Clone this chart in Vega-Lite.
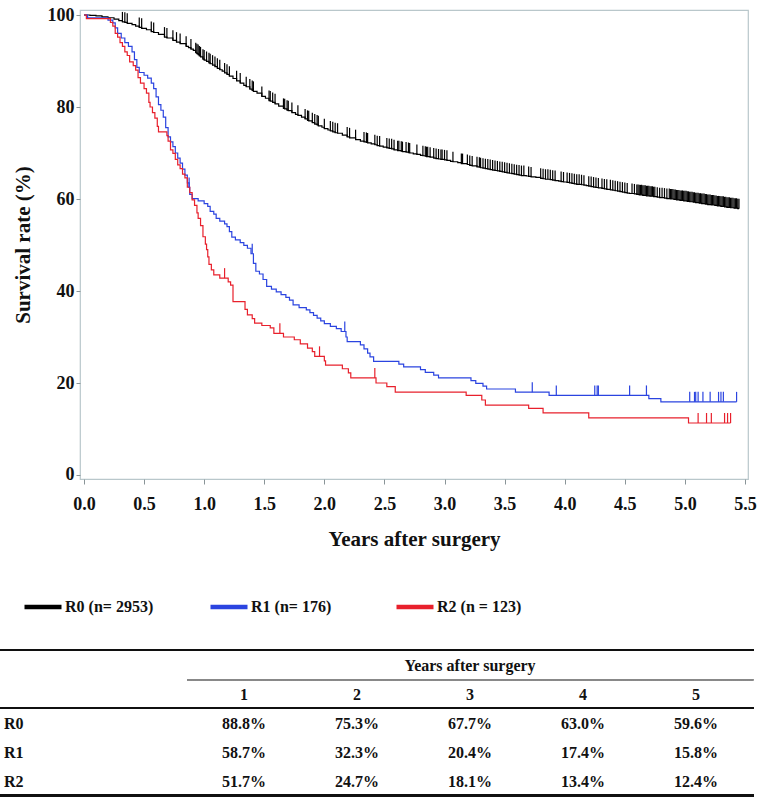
{
"$schema": "https://vega.github.io/schema/vega-lite/v6.json",
"width": 668, "height": 469,
"autosize": {"type": "none"},
"padding": {"left": 80, "top": 10, "right": 19, "bottom": 318},
"background": "white",
"config": {
  "view": {"stroke": "#b9c7cb", "strokeWidth": 1.2},
  "font": "Liberation Serif",
  "axis": {"labelFont": "Liberation Serif", "labelFontWeight": "bold", "labelFontSize": 18, "labelColor": "#111111", "titleFont": "Liberation Serif", "titleFontWeight": "bold", "titleFontSize": 21, "titleColor": "#111111", "domain": false, "grid": false, "tickColor": "#8a9598", "labelFlush": false, "labelOverlap": false}
},
"datasets": {
"km": [
{"g":"R0","t":0,"s":100},{"g":"R0","t":0.05,"s":99.9},{"g":"R0","t":0.1,"s":99.8},{"g":"R0","t":0.15,"s":99.6},{"g":"R0","t":0.2,"s":99.4},{"g":"R0","t":0.25,"s":99.1},{"g":"R0","t":0.29,"s":98.8},
{"g":"R0","t":0.32,"s":98.5,"c":1},{"g":"R0","t":0.34,"s":98.4,"c":1},{"g":"R0","t":0.36,"s":98.2,"c":1},{"g":"R0","t":0.4,"s":97.9},{"g":"R0","t":0.43,"s":97.6},{"g":"R0","t":0.46,"s":97.3,"c":1},{"g":"R0","t":0.48,"s":97.1,"c":1},{"g":"R0","t":0.52,"s":96.8},{"g":"R0","t":0.56,"s":96.4,"c":1},{"g":"R0","t":0.58,"s":96.2,"c":1},{"g":"R0","t":0.62,"s":95.8},{"g":"R0","t":0.67,"s":95.2,"c":1},{"g":"R0","t":0.69,"s":95.0,"c":1},{"g":"R0","t":0.74,"s":94.5,"c":1},{"g":"R0","t":0.77,"s":94.1,"c":1},{"g":"R0","t":0.8,"s":93.8,"c":1},{"g":"R0","t":0.85,"s":93.2,"c":1},{"g":"R0","t":0.87,"s":92.9},{"g":"R0","t":0.89,"s":92.6,"c":1},{"g":"R0","t":0.91,"s":92.3},{"g":"R0","t":0.93,"s":91.8,"c":1},{"g":"R0","t":0.94,"s":91.6,"c":1},{"g":"R0","t":0.95,"s":91.4,"c":1},{"g":"R0","t":0.96,"s":91.1,"c":1},{"g":"R0","t":0.97,"s":90.9,"c":1},{"g":"R0","t":0.99,"s":90.4,"c":1},{"g":"R0","t":1.0,"s":90.2,"c":1},
{"g":"R0","t":1.02,"s":89.9,"c":1},{"g":"R0","t":1.04,"s":89.6,"c":1},{"g":"R0","t":1.05,"s":89.4,"c":1},{"g":"R0","t":1.07,"s":89.1,"c":1},{"g":"R0","t":1.09,"s":88.8,"c":1},{"g":"R0","t":1.11,"s":88.4,"c":1},{"g":"R0","t":1.13,"s":88.1,"c":1},{"g":"R0","t":1.15,"s":87.8},{"g":"R0","t":1.17,"s":87.4,"c":1},{"g":"R0","t":1.19,"s":87.1,"c":1},{"g":"R0","t":1.21,"s":86.7,"c":1},{"g":"R0","t":1.24,"s":86.2},{"g":"R0","t":1.27,"s":85.7,"c":1},{"g":"R0","t":1.3,"s":85.2,"c":1},{"g":"R0","t":1.33,"s":84.7},{"g":"R0","t":1.35,"s":84.4,"c":1},{"g":"R0","t":1.38,"s":83.9,"c":1},{"g":"R0","t":1.4,"s":83.6,"c":1},{"g":"R0","t":1.41,"s":83.4,"c":1},{"g":"R0","t":1.44,"s":83.0},{"g":"R0","t":1.48,"s":82.3,"c":1},{"g":"R0","t":1.51,"s":81.9},{"g":"R0","t":1.54,"s":81.4,"c":1},{"g":"R0","t":1.55,"s":81.3,"c":1},{"g":"R0","t":1.57,"s":81.0,"c":1},{"g":"R0","t":1.59,"s":80.7,"c":1},{"g":"R0","t":1.62,"s":80.2},{"g":"R0","t":1.66,"s":79.7,"c":1},{"g":"R0","t":1.67,"s":79.6,"c":1},{"g":"R0","t":1.69,"s":79.3,"c":1},{"g":"R0","t":1.7,"s":79.2,"c":1},{"g":"R0","t":1.73,"s":78.8,"c":1},{"g":"R0","t":1.76,"s":78.4},{"g":"R0","t":1.78,"s":78.2,"c":1},{"g":"R0","t":1.81,"s":77.8},{"g":"R0","t":1.84,"s":77.4,"c":1},{"g":"R0","t":1.86,"s":77.1,"c":1},{"g":"R0","t":1.87,"s":77.0,"c":1},{"g":"R0","t":1.9,"s":76.6,"c":1},{"g":"R0","t":1.92,"s":76.3,"c":1},{"g":"R0","t":1.94,"s":76.1,"c":1},{"g":"R0","t":1.95,"s":75.9,"c":1},{"g":"R0","t":1.98,"s":75.6},
{"g":"R0","t":2.0,"s":75.3,"c":1},{"g":"R0","t":2.03,"s":75.0},{"g":"R0","t":2.05,"s":74.8,"c":1},{"g":"R0","t":2.07,"s":74.6,"c":1},{"g":"R0","t":2.09,"s":74.4,"c":1},{"g":"R0","t":2.11,"s":74.3,"c":1},{"g":"R0","t":2.15,"s":73.9},{"g":"R0","t":2.19,"s":73.5,"c":1},{"g":"R0","t":2.21,"s":73.3,"c":1},{"g":"R0","t":2.26,"s":72.9,"c":1},{"g":"R0","t":2.3,"s":72.6},{"g":"R0","t":2.33,"s":72.4,"c":1},{"g":"R0","t":2.35,"s":72.3,"c":1},{"g":"R0","t":2.36,"s":72.2,"c":1},{"g":"R0","t":2.39,"s":72.0},{"g":"R0","t":2.42,"s":71.8,"c":1},{"g":"R0","t":2.44,"s":71.6,"c":1},{"g":"R0","t":2.46,"s":71.5,"c":1},{"g":"R0","t":2.49,"s":71.3},{"g":"R0","t":2.52,"s":71.1,"c":1},{"g":"R0","t":2.54,"s":71.0,"c":1},{"g":"R0","t":2.56,"s":70.9,"c":1},{"g":"R0","t":2.58,"s":70.7,"c":1},{"g":"R0","t":2.61,"s":70.5,"c":1},{"g":"R0","t":2.62,"s":70.5,"c":1},{"g":"R0","t":2.64,"s":70.4,"c":1},{"g":"R0","t":2.65,"s":70.3,"c":1},{"g":"R0","t":2.68,"s":70.2,"c":1},{"g":"R0","t":2.7,"s":70.1,"c":1},{"g":"R0","t":2.71,"s":70.0,"c":1},{"g":"R0","t":2.74,"s":69.8},{"g":"R0","t":2.77,"s":69.7,"c":1},{"g":"R0","t":2.8,"s":69.5},{"g":"R0","t":2.82,"s":69.4,"c":1},{"g":"R0","t":2.84,"s":69.3,"c":1},{"g":"R0","t":2.85,"s":69.2,"c":1},{"g":"R0","t":2.86,"s":69.2,"c":1},{"g":"R0","t":2.88,"s":69.1,"c":1},{"g":"R0","t":2.91,"s":68.9,"c":1},{"g":"R0","t":2.93,"s":68.8,"c":1},{"g":"R0","t":2.95,"s":68.7,"c":1},{"g":"R0","t":2.97,"s":68.6,"c":1},{"g":"R0","t":2.98,"s":68.6,"c":1},
{"g":"R0","t":3.0,"s":68.5,"c":1},{"g":"R0","t":3.02,"s":68.4,"c":1},{"g":"R0","t":3.05,"s":68.2},{"g":"R0","t":3.07,"s":68.1,"c":1},{"g":"R0","t":3.11,"s":67.9},{"g":"R0","t":3.14,"s":67.7,"c":1},{"g":"R0","t":3.15,"s":67.7,"c":1},{"g":"R0","t":3.19,"s":67.5,"c":1},{"g":"R0","t":3.21,"s":67.3,"c":1},{"g":"R0","t":3.23,"s":67.2,"c":1},{"g":"R0","t":3.27,"s":67.0,"c":1},{"g":"R0","t":3.29,"s":66.9,"c":1},{"g":"R0","t":3.3,"s":66.8,"c":1},{"g":"R0","t":3.32,"s":66.7,"c":1},{"g":"R0","t":3.34,"s":66.6,"c":1},{"g":"R0","t":3.36,"s":66.5,"c":1},{"g":"R0","t":3.38,"s":66.4,"c":1},{"g":"R0","t":3.4,"s":66.3,"c":1},{"g":"R0","t":3.42,"s":66.2,"c":1},{"g":"R0","t":3.44,"s":66.1,"c":1},{"g":"R0","t":3.46,"s":66.0,"c":1},{"g":"R0","t":3.48,"s":65.9,"c":1},{"g":"R0","t":3.5,"s":65.8,"c":1},{"g":"R0","t":3.52,"s":65.7,"c":1},{"g":"R0","t":3.54,"s":65.6,"c":1},{"g":"R0","t":3.56,"s":65.5,"c":1},{"g":"R0","t":3.58,"s":65.4,"c":1},{"g":"R0","t":3.6,"s":65.3,"c":1},{"g":"R0","t":3.62,"s":65.2,"c":1},{"g":"R0","t":3.64,"s":65.1,"c":1},{"g":"R0","t":3.66,"s":65.1,"c":1},{"g":"R0","t":3.68,"s":65.0},{"g":"R0","t":3.7,"s":64.9,"c":1},{"g":"R0","t":3.72,"s":64.8,"c":1},{"g":"R0","t":3.76,"s":64.7},{"g":"R0","t":3.8,"s":64.5,"c":1},{"g":"R0","t":3.82,"s":64.4,"c":1},{"g":"R0","t":3.84,"s":64.3,"c":1},{"g":"R0","t":3.86,"s":64.3,"c":1},{"g":"R0","t":3.88,"s":64.2,"c":1},{"g":"R0","t":3.9,"s":64.1,"c":1},{"g":"R0","t":3.92,"s":64.0,"c":1},{"g":"R0","t":3.95,"s":63.9},{"g":"R0","t":3.97,"s":63.8,"c":1},{"g":"R0","t":3.99,"s":63.7,"c":1},
{"g":"R0","t":4.02,"s":63.6,"c":1},{"g":"R0","t":4.04,"s":63.5,"c":1},{"g":"R0","t":4.06,"s":63.4,"c":1},{"g":"R0","t":4.08,"s":63.3,"c":1},{"g":"R0","t":4.1,"s":63.2,"c":1},{"g":"R0","t":4.12,"s":63.2,"c":1},{"g":"R0","t":4.14,"s":63.1,"c":1},{"g":"R0","t":4.16,"s":63.0,"c":1},{"g":"R0","t":4.18,"s":62.9},{"g":"R0","t":4.2,"s":62.8,"c":1},{"g":"R0","t":4.22,"s":62.7,"c":1},{"g":"R0","t":4.24,"s":62.6,"c":1},{"g":"R0","t":4.26,"s":62.5,"c":1},{"g":"R0","t":4.28,"s":62.4,"c":1},{"g":"R0","t":4.31,"s":62.3,"c":1},{"g":"R0","t":4.33,"s":62.2,"c":1},{"g":"R0","t":4.35,"s":62.1,"c":1},{"g":"R0","t":4.38,"s":62.0,"c":1},{"g":"R0","t":4.4,"s":61.9,"c":1},{"g":"R0","t":4.42,"s":61.8,"c":1},{"g":"R0","t":4.44,"s":61.7,"c":1},{"g":"R0","t":4.46,"s":61.6,"c":1},{"g":"R0","t":4.48,"s":61.5,"c":1},{"g":"R0","t":4.5,"s":61.4,"c":1},{"g":"R0","t":4.52,"s":61.3,"c":1},{"g":"R0","t":4.54,"s":61.2},{"g":"R0","t":4.56,"s":61.2,"c":1},{"g":"R0","t":4.58,"s":61.1,"c":1},{"g":"R0","t":4.6,"s":61.0,"c":1},{"g":"R0","t":4.61,"s":61.0,"c":1},{"g":"R0","t":4.62,"s":60.9,"c":1},{"g":"R0","t":4.63,"s":60.9,"c":1},{"g":"R0","t":4.64,"s":60.9,"c":1},{"g":"R0","t":4.65,"s":60.8,"c":1},{"g":"R0","t":4.66,"s":60.8,"c":1},{"g":"R0","t":4.67,"s":60.8,"c":1},{"g":"R0","t":4.68,"s":60.7,"c":1},{"g":"R0","t":4.69,"s":60.7,"c":1},{"g":"R0","t":4.7,"s":60.7,"c":1},{"g":"R0","t":4.71,"s":60.6,"c":1},{"g":"R0","t":4.72,"s":60.6,"c":1},{"g":"R0","t":4.73,"s":60.6,"c":1},{"g":"R0","t":4.74,"s":60.5,"c":1},{"g":"R0","t":4.75,"s":60.5,"c":1},{"g":"R0","t":4.77,"s":60.4,"c":1},{"g":"R0","t":4.79,"s":60.3,"c":1},{"g":"R0","t":4.81,"s":60.3,"c":1},{"g":"R0","t":4.83,"s":60.2,"c":1},{"g":"R0","t":4.85,"s":60.1,"c":1},{"g":"R0","t":4.87,"s":60.1,"c":1},
{"g":"R0","t":4.88,"s":60.0,"c":1},{"g":"R0","t":4.89,"s":60.0,"c":1},{"g":"R0","t":4.9,"s":60.0,"c":1},{"g":"R0","t":4.91,"s":59.9,"c":1},{"g":"R0","t":4.92,"s":59.9,"c":1},{"g":"R0","t":4.93,"s":59.8,"c":1},{"g":"R0","t":4.94,"s":59.8,"c":1},{"g":"R0","t":4.95,"s":59.8,"c":1},{"g":"R0","t":4.96,"s":59.7,"c":1},{"g":"R0","t":4.97,"s":59.7,"c":1},{"g":"R0","t":4.98,"s":59.7,"c":1},{"g":"R0","t":4.99,"s":59.6,"c":1},{"g":"R0","t":5.0,"s":59.6,"c":1},{"g":"R0","t":5.01,"s":59.6,"c":1},{"g":"R0","t":5.02,"s":59.5,"c":1},{"g":"R0","t":5.03,"s":59.5,"c":1},{"g":"R0","t":5.04,"s":59.4,"c":1},{"g":"R0","t":5.05,"s":59.4,"c":1},{"g":"R0","t":5.06,"s":59.4,"c":1},{"g":"R0","t":5.07,"s":59.3,"c":1},{"g":"R0","t":5.08,"s":59.3,"c":1},{"g":"R0","t":5.09,"s":59.2,"c":1},{"g":"R0","t":5.1,"s":59.2,"c":1},{"g":"R0","t":5.11,"s":59.2,"c":1},{"g":"R0","t":5.12,"s":59.1,"c":1},{"g":"R0","t":5.13,"s":59.1,"c":1},{"g":"R0","t":5.14,"s":59.0,"c":1},{"g":"R0","t":5.15,"s":59.0,"c":1},{"g":"R0","t":5.16,"s":59.0,"c":1},{"g":"R0","t":5.17,"s":58.9,"c":1},{"g":"R0","t":5.18,"s":58.9,"c":1},{"g":"R0","t":5.19,"s":58.8,"c":1},{"g":"R0","t":5.2,"s":58.8,"c":1},{"g":"R0","t":5.21,"s":58.8,"c":1},{"g":"R0","t":5.22,"s":58.7,"c":1},{"g":"R0","t":5.23,"s":58.7,"c":1},{"g":"R0","t":5.24,"s":58.7,"c":1},{"g":"R0","t":5.25,"s":58.6,"c":1},{"g":"R0","t":5.26,"s":58.6,"c":1},{"g":"R0","t":5.27,"s":58.5,"c":1},{"g":"R0","t":5.28,"s":58.5,"c":1},{"g":"R0","t":5.29,"s":58.5,"c":1},{"g":"R0","t":5.3,"s":58.4,"c":1},{"g":"R0","t":5.31,"s":58.4,"c":1},{"g":"R0","t":5.32,"s":58.4,"c":1},{"g":"R0","t":5.33,"s":58.3,"c":1},{"g":"R0","t":5.34,"s":58.3,"c":1},{"g":"R0","t":5.35,"s":58.2,"c":1},{"g":"R0","t":5.36,"s":58.2,"c":1},{"g":"R0","t":5.37,"s":58.2,"c":1},{"g":"R0","t":5.38,"s":58.1,"c":1},{"g":"R0","t":5.39,"s":58.1,"c":1},{"g":"R0","t":5.4,"s":58.1,"c":1},{"g":"R0","t":5.41,"s":58.0,"c":1},{"g":"R0","t":5.42,"s":58.0,"c":1},{"g":"R0","t":5.43,"s":58.0,"c":1},{"g":"R0","t":5.44,"s":57.9,"c":1},{"g":"R0","t":5.45,"s":57.9,"c":1},
{"g":"R1","t":0,"s":100},{"g":"R1","t":0.03,"s":99.4},{"g":"R1","t":0.2,"s":98.9},{"g":"R1","t":0.24,"s":98.3},{"g":"R1","t":0.26,"s":97.2},{"g":"R1","t":0.28,"s":96.0},{"g":"R1","t":0.31,"s":95.0},{"g":"R1","t":0.34,"s":94.0},{"g":"R1","t":0.37,"s":93.2},{"g":"R1","t":0.4,"s":92.0},{"g":"R1","t":0.42,"s":90.3},{"g":"R1","t":0.44,"s":88.6},{"g":"R1","t":0.46,"s":87.5},{"g":"R1","t":0.5,"s":86.9},{"g":"R1","t":0.53,"s":86.3},{"g":"R1","t":0.56,"s":85.2},{"g":"R1","t":0.58,"s":84.0},{"g":"R1","t":0.6,"s":82.2},{"g":"R1","t":0.62,"s":80.5},{"g":"R1","t":0.64,"s":79.3},{"g":"R1","t":0.66,"s":77.8},{"g":"R1","t":0.68,"s":75.5},{"g":"R1","t":0.7,"s":73.5},{"g":"R1","t":0.72,"s":72.4},{"g":"R1","t":0.74,"s":71.4},{"g":"R1","t":0.76,"s":70.0},{"g":"R1","t":0.78,"s":68.9},{"g":"R1","t":0.8,"s":67.8},{"g":"R1","t":0.82,"s":66.5},{"g":"R1","t":0.84,"s":65.2},{"g":"R1","t":0.86,"s":63.5},{"g":"R1","t":0.875,"s":62.5,"c":1},{"g":"R1","t":0.88,"s":61.0},{"g":"R1","t":0.9,"s":60.1},{"g":"R1","t":0.95,"s":59.6},{"g":"R1","t":1.0,"s":59.0},{"g":"R1","t":1.03,"s":58.4},{"g":"R1","t":1.05,"s":57.3},{"g":"R1","t":1.08,"s":56.7},{"g":"R1","t":1.1,"s":55.8},{"g":"R1","t":1.13,"s":55.2},{"g":"R1","t":1.17,"s":54.6},{"g":"R1","t":1.19,"s":54.0},{"g":"R1","t":1.21,"s":52.9},{"g":"R1","t":1.23,"s":51.7},{"g":"R1","t":1.26,"s":51.1},{"g":"R1","t":1.3,"s":50.5},{"g":"R1","t":1.33,"s":49.9},{"g":"R1","t":1.36,"s":49.3},{"g":"R1","t":1.39,"s":48.1},{"g":"R1","t":1.4,"s":48.1,"c":1},{"g":"R1","t":1.41,"s":46.0},{"g":"R1","t":1.43,"s":44.3},{"g":"R1","t":1.46,"s":43.7},{"g":"R1","t":1.49,"s":42.5},{"g":"R1","t":1.52,"s":41.0},{"g":"R1","t":1.56,"s":40.4},{"g":"R1","t":1.6,"s":39.8},{"g":"R1","t":1.64,"s":39.2},{"g":"R1","t":1.68,"s":38.6},{"g":"R1","t":1.71,"s":38.0},{"g":"R1","t":1.74,"s":37.0},{"g":"R1","t":1.79,"s":36.4},{"g":"R1","t":1.85,"s":35.9},{"g":"R1","t":1.88,"s":35.3},{"g":"R1","t":1.91,"s":34.7},{"g":"R1","t":1.94,"s":34.1},{"g":"R1","t":1.97,"s":33.5},{"g":"R1","t":2.0,"s":32.9},{"g":"R1","t":2.05,"s":32.3},{"g":"R1","t":2.1,"s":31.8},{"g":"R1","t":2.14,"s":31.2},{"g":"R1","t":2.17,"s":31.2,"c":1},{"g":"R1","t":2.18,"s":30.0},{"g":"R1","t":2.19,"s":29.0},{"g":"R1","t":2.3,"s":28.3},{"g":"R1","t":2.33,"s":27.4},{"g":"R1","t":2.36,"s":26.5},{"g":"R1","t":2.38,"s":25.7},{"g":"R1","t":2.41,"s":24.7},{"g":"R1","t":2.62,"s":24.1},{"g":"R1","t":2.66,"s":23.5},{"g":"R1","t":2.8,"s":22.9},{"g":"R1","t":2.84,"s":22.3},{"g":"R1","t":2.91,"s":21.7},{"g":"R1","t":2.95,"s":21.1},{"g":"R1","t":3.22,"s":20.5},{"g":"R1","t":3.26,"s":19.9},{"g":"R1","t":3.32,"s":19.3},{"g":"R1","t":3.35,"s":18.7},{"g":"R1","t":3.59,"s":18.0},{"g":"R1","t":3.73,"s":18.0,"c":1},{"g":"R1","t":3.87,"s":17.3},{"g":"R1","t":3.93,"s":17.3,"c":1},{"g":"R1","t":4.25,"s":17.3,"c":1},{"g":"R1","t":4.27,"s":17.3,"c":1},{"g":"R1","t":4.28,"s":17.3,"c":1},{"g":"R1","t":4.54,"s":17.3,"c":1},{"g":"R1","t":4.68,"s":17.3,"c":1},{"g":"R1","t":4.7,"s":16.6},{"g":"R1","t":4.8,"s":15.9},{"g":"R1","t":5.04,"s":15.9,"c":1},{"g":"R1","t":5.08,"s":15.9,"c":1},{"g":"R1","t":5.09,"s":15.9,"c":1},{"g":"R1","t":5.11,"s":15.9,"c":1},{"g":"R1","t":5.15,"s":15.9,"c":1},{"g":"R1","t":5.21,"s":15.9,"c":1},{"g":"R1","t":5.28,"s":15.9,"c":1},{"g":"R1","t":5.3,"s":15.9,"c":1},{"g":"R1","t":5.32,"s":15.9,"c":1},{"g":"R1","t":5.43,"s":15.9,"c":1},
{"g":"R2","t":0,"s":100},{"g":"R2","t":0.02,"s":99.2},{"g":"R2","t":0.22,"s":98.4},{"g":"R2","t":0.24,"s":97.6},{"g":"R2","t":0.26,"s":96.0},{"g":"R2","t":0.28,"s":95.2},{"g":"R2","t":0.3,"s":94.0},{"g":"R2","t":0.32,"s":93.2},{"g":"R2","t":0.34,"s":92.0},{"g":"R2","t":0.36,"s":91.2},{"g":"R2","t":0.38,"s":89.8},{"g":"R2","t":0.41,"s":89.0},{"g":"R2","t":0.43,"s":88.0},{"g":"R2","t":0.45,"s":86.4},{"g":"R2","t":0.47,"s":85.2},{"g":"R2","t":0.5,"s":84.0},{"g":"R2","t":0.52,"s":83.0},{"g":"R2","t":0.54,"s":81.0},{"g":"R2","t":0.55,"s":80.0},{"g":"R2","t":0.57,"s":78.8},{"g":"R2","t":0.59,"s":77.6},{"g":"R2","t":0.61,"s":75.8},{"g":"R2","t":0.62,"s":74.6},{"g":"R2","t":0.69,"s":73.8},{"g":"R2","t":0.7,"s":72.6},{"g":"R2","t":0.72,"s":70.7},{"g":"R2","t":0.74,"s":69.9},{"g":"R2","t":0.76,"s":68.6},{"g":"R2","t":0.78,"s":67.4},{"g":"R2","t":0.8,"s":66.6},{"g":"R2","t":0.82,"s":65.4},{"g":"R2","t":0.84,"s":64.6},{"g":"R2","t":0.86,"s":62.6},{"g":"R2","t":0.88,"s":61.4},{"g":"R2","t":0.9,"s":59.8},{"g":"R2","t":0.92,"s":58.6},{"g":"R2","t":0.94,"s":57.0},{"g":"R2","t":0.95,"s":55.8},{"g":"R2","t":0.97,"s":54.2},{"g":"R2","t":0.99,"s":51.8},{"g":"R2","t":1.01,"s":50.2},{"g":"R2","t":1.02,"s":49.0},{"g":"R2","t":1.03,"s":47.4},{"g":"R2","t":1.04,"s":45.8},{"g":"R2","t":1.06,"s":44.6},{"g":"R2","t":1.08,"s":43.5},{"g":"R2","t":1.13,"s":42.8},{"g":"R2","t":1.17,"s":42.8,"c":1},{"g":"R2","t":1.2,"s":42.0},{"g":"R2","t":1.22,"s":41.3},{"g":"R2","t":1.24,"s":37.7},{"g":"R2","t":1.34,"s":36.0},{"g":"R2","t":1.36,"s":34.8},{"g":"R2","t":1.4,"s":34.0},{"g":"R2","t":1.42,"s":33.0},{"g":"R2","t":1.48,"s":32.5},{"g":"R2","t":1.55,"s":32.0},{"g":"R2","t":1.58,"s":30.8},{"g":"R2","t":1.63,"s":30.8,"c":1},{"g":"R2","t":1.66,"s":30.0},{"g":"R2","t":1.75,"s":29.4},{"g":"R2","t":1.8,"s":28.5},{"g":"R2","t":1.86,"s":27.6},{"g":"R2","t":1.9,"s":26.8},{"g":"R2","t":1.92,"s":25.8},{"g":"R2","t":1.96,"s":25.8,"c":1},{"g":"R2","t":2.0,"s":24.8},{"g":"R2","t":2.01,"s":23.9},{"g":"R2","t":2.15,"s":23.1},{"g":"R2","t":2.2,"s":22.2},{"g":"R2","t":2.22,"s":21.1},{"g":"R2","t":2.42,"s":21.1,"c":1},{"g":"R2","t":2.43,"s":20.0},{"g":"R2","t":2.52,"s":19.2},{"g":"R2","t":2.59,"s":18.0},{"g":"R2","t":3.18,"s":17.3},{"g":"R2","t":3.31,"s":16.3},{"g":"R2","t":3.34,"s":15.2},{"g":"R2","t":3.7,"s":14.5},{"g":"R2","t":3.82,"s":13.5},{"g":"R2","t":4.2,"s":12.4},{"g":"R2","t":5.03,"s":11.3},{"g":"R2","t":5.11,"s":11.3,"c":1},{"g":"R2","t":5.18,"s":11.3,"c":1},{"g":"R2","t":5.22,"s":11.3,"c":1},{"g":"R2","t":5.33,"s":11.3,"c":1},{"g":"R2","t":5.355,"s":11.3,"c":1},{"g":"R2","t":5.38,"s":11.3,"c":1}
],
"tab": [
{"r":-1,"k":3,"v":"Years after surgery"},
{"r":0,"k":1,"v":"1"},{"r":0,"k":2,"v":"2"},{"r":0,"k":3,"v":"3"},{"r":0,"k":4,"v":"4"},{"r":0,"k":5,"v":"5"},
{"r":1,"k":1,"v":"88.8%","lab":"R0"},{"r":1,"k":2,"v":"75.3%"},{"r":1,"k":3,"v":"67.7%"},{"r":1,"k":4,"v":"63.0%"},{"r":1,"k":5,"v":"59.6%"},
{"r":2,"k":1,"v":"58.7%","lab":"R1"},{"r":2,"k":2,"v":"32.3%"},{"r":2,"k":3,"v":"20.4%"},{"r":2,"k":4,"v":"17.4%"},{"r":2,"k":5,"v":"15.8%"},
{"r":3,"k":1,"v":"51.7%","lab":"R2"},{"r":3,"k":2,"v":"24.7%"},{"r":3,"k":3,"v":"18.1%"},{"r":3,"k":4,"v":"13.4%"},{"r":3,"k":5,"v":"12.4%"}
]
},
"layer": [
{
  "data": {"name": "km"},
  "layer": [
    {
      "mark": {"type": "line", "interpolate": "step-after", "strokeWidth": 1.2},
      "encoding": {
        "x": {"field": "t", "type": "quantitative", "scale": {"domain": [-0.033, 5.525], "nice": false, "zero": false},
              "axis": {"values": [0,0.5,1,1.5,2,2.5,3,3.5,4,4.5,5,5.5], "format": ".1f", "title": "Years after surgery", "tickSize": 5, "labelPadding": 11, "titlePadding": 15}},
        "y": {"field": "s", "type": "quantitative", "scale": {"domain": [-0.87, 101.09], "nice": false, "zero": false},
              "axis": {"values": [0,20,40,60,80,100], "title": "Survival rate (%)", "tickSize": 4, "labelPadding": 2, "titlePadding": 14}},
        "color": {"field": "g", "type": "nominal",
                  "scale": {"domain": ["R0","R1","R2"], "range": ["#000000","#2b44e0","#e8202c"]},
                  "legend": {"orient": "none", "legendX": -58, "legendY": 576, "direction": "horizontal", "columns": 3, "gridAlign": "all", "title": null,
                             "symbolType": "stroke", "symbolSize": 1369, "symbolStrokeWidth": 4.5, "symbolOpacity": 1,
                             "labelFont": "Liberation Serif", "labelFontWeight": "bold", "labelFontSize": 16, "labelColor": "#111111", "labelOffset": 1, "labelLimit": 300,
                             "columnPadding": 47, "padding": 0,
                             "labelExpr": "datum.label == 'R0' ? 'R0 (n= 2953)' : datum.label == 'R1' ? 'R1 (n= 176)' : 'R2 (n = 123)'"}}
      }
    },
    {
      "transform": [{"filter": "datum.c == 1"}],
      "mark": {"type": "tick", "orient": "vertical", "size": 10, "thickness": 1.2, "yOffset": -5, "opacity": 1},
      "encoding": {
        "x": {"field": "t", "type": "quantitative", "scale": {"domain": [-0.033, 5.525], "nice": false, "zero": false}},
        "y": {"field": "s", "type": "quantitative", "scale": {"domain": [-0.87, 101.09], "nice": false, "zero": false}},
        "color": {"field": "g", "type": "nominal"}
      }
    }
  ]
},
{
  "data": {"name": "tab"},
  "layer": [
    {
      "mark": {"type": "text", "font": "Liberation Serif", "fontWeight": "bold", "fontSize": 16, "color": "#111111", "align": "center", "baseline": "middle"},
      "encoding": {
        "x": {"field": "k", "type": "quantitative", "scale": {"domain": [-0.4513, 5.4602], "nice": false, "zero": false}, "axis": null},
        "y": {"field": "r", "type": "quantitative", "scale": {"domain": [-23.621, -7.448], "reverse": true, "nice": false, "zero": false}, "axis": null},
        "text": {"field": "v"}
      }
    },
    {
      "transform": [{"filter": "isValid(datum.lab)"}],
      "mark": {"type": "text", "font": "Liberation Serif", "fontWeight": "bold", "fontSize": 16, "color": "#111111", "align": "left", "baseline": "middle"},
      "encoding": {
        "x": {"datum": -1.124, "type": "quantitative", "scale": {"domain": [-0.4513, 5.4602], "nice": false, "zero": false}, "axis": null},
        "y": {"field": "r", "type": "quantitative", "scale": {"domain": [-23.621, -7.448], "reverse": true, "nice": false, "zero": false}, "axis": null},
        "text": {"field": "lab"}
      }
    },
    {
      "mark": {"type": "rule", "color": "#111111", "strokeWidth": 1.6},
      "encoding": {
        "x": {"datum": -1.16, "type": "quantitative", "scale": {"domain": [-0.4513, 5.4602], "nice": false, "zero": false}, "axis": null},
        "x2": {"datum": 5.51},
        "y": {"datum": -1.55, "type": "quantitative", "scale": {"domain": [-23.621, -7.448], "reverse": true, "nice": false, "zero": false}, "axis": null}
      }
    },
    {
      "mark": {"type": "rule", "color": "#888888", "strokeWidth": 1.2, "strokeDash": [1, 1]},
      "encoding": {
        "x": {"datum": 0.5, "type": "quantitative", "scale": {"domain": [-0.4513, 5.4602], "nice": false, "zero": false}, "axis": null},
        "x2": {"datum": 5.51},
        "y": {"datum": -0.52, "type": "quantitative", "scale": {"domain": [-23.621, -7.448], "reverse": true, "nice": false, "zero": false}, "axis": null}
      }
    },
    {
      "mark": {"type": "rule", "color": "#111111", "strokeWidth": 1.6},
      "encoding": {
        "x": {"datum": -1.16, "type": "quantitative", "scale": {"domain": [-0.4513, 5.4602], "nice": false, "zero": false}, "axis": null},
        "x2": {"datum": 5.51},
        "y": {"datum": 0.45, "type": "quantitative", "scale": {"domain": [-23.621, -7.448], "reverse": true, "nice": false, "zero": false}, "axis": null}
      }
    },
    {
      "mark": {"type": "rule", "color": "#111111", "strokeWidth": 3},
      "encoding": {
        "x": {"datum": -1.16, "type": "quantitative", "scale": {"domain": [-0.4513, 5.4602], "nice": false, "zero": false}, "axis": null},
        "x2": {"datum": 5.51},
        "y": {"datum": 3.48, "type": "quantitative", "scale": {"domain": [-23.621, -7.448], "reverse": true, "nice": false, "zero": false}, "axis": null}
      }
    }
  ]
}
],
"resolve": {"scale": {"x": "independent", "y": "independent"}}
}
